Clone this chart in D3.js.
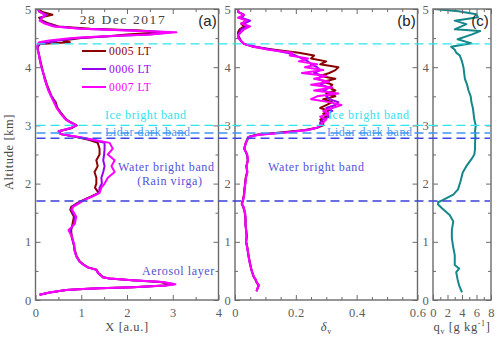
<!DOCTYPE html>
<html>
<head>
<meta charset="utf-8">
<script src="https://cdn.jsdelivr.net/npm/d3@7"></script>
<style>
body { margin: 0; background: #fff; }
svg { display: block; }
</style>
</head>
<body>
<svg id="chart" width="500" height="340"></svg>
<script>
// ---- data ----
const seriesNames = ["0005 LT", "0006 LT", "0007 LT"];

// panel (a): backscatter X [a.u.] vs altitude [km]
const altA = [0.09,0.13,0.17,0.19,0.20,0.22,0.25,0.27,0.31,0.34,
    0.37,0.39,0.47,0.52,0.56,0.61,0.66,0.75,0.86,0.94,
    1.00,1.08,1.20,1.31,1.43,1.55,1.60,1.65,1.72,1.78,
    1.84,1.93,2.00,2.10,2.20,2.30,2.40,2.50,2.60,2.70,
    2.75,2.80,2.85,2.90,2.95,3.00,3.05,3.10,3.20,3.30,
    3.40,3.50,3.60,3.70,3.80,3.90,4.00,4.10,4.20,4.30,
    4.35,4.40,4.43,4.46,4.50,4.53,4.56,4.60,4.63,4.66,
    4.70,4.75,4.80,4.85,4.90,4.95,5.00];
const x0005 = [0.09,0.31,0.67,1.04,1.40,2.13,2.80,2.98,2.72,2.10,
    1.62,1.48,1.37,1.33,1.15,1.05,0.97,0.90,0.86,0.84,
    0.82,0.79,0.78,0.81,0.84,0.76,0.78,0.88,1.05,1.22,
    1.38,1.30,1.33,1.33,1.29,1.36,1.33,1.40,1.40,1.36,
    1.18,0.90,0.55,0.52,0.78,0.90,0.78,0.68,0.57,0.48,
    0.44,0.35,0.30,0.25,0.21,0.17,0.14,0.11,0.08,0.05,
    0.05,0.10,0.75,0.60,1.00,1.60,2.00,2.75,2.30,1.20,
    0.50,0.30,0.15,0.08,0.37,0.15,0.05];
const x0006 = [0.09,0.31,0.67,1.04,1.40,2.13,2.84,3.03,2.76,2.12,
    1.62,1.47,1.36,1.33,1.14,1.04,0.96,0.89,0.85,0.84,
    0.82,0.80,0.76,0.84,0.86,0.78,0.80,0.90,1.06,1.24,
    1.39,1.40,1.45,1.44,1.48,1.51,1.48,1.50,1.51,1.51,
    1.25,0.92,0.55,0.51,0.76,0.89,0.77,0.67,0.56,0.47,
    0.42,0.35,0.29,0.24,0.20,0.17,0.13,0.10,0.08,0.05,
    0.04,0.06,0.30,0.50,0.90,1.60,2.50,2.95,2.10,1.00,
    0.45,0.25,0.10,0.12,0.25,0.08,0.05];
const x0007 = [0.09,0.31,0.67,1.04,1.40,2.13,2.86,3.06,2.79,2.13,
    1.62,1.47,1.36,1.33,1.14,1.04,0.96,0.89,0.85,0.85,
    0.83,0.80,0.72,0.86,0.89,0.80,0.82,0.93,1.07,1.25,
    1.40,1.44,1.51,1.58,1.73,1.66,1.73,1.58,1.69,1.62,
    1.30,0.95,0.55,0.50,0.75,0.89,0.76,0.66,0.55,0.46,
    0.40,0.34,0.28,0.24,0.20,0.17,0.13,0.10,0.08,0.05,
    0.04,0.05,0.08,0.30,0.80,1.50,2.50,3.08,2.00,1.00,
    0.40,0.20,0.09,0.15,0.20,0.10,0.05];

// panel (b): volume depolarization ratio
const altB = [0.15,0.20,0.25,0.30,0.35,0.40,0.50,0.60,0.70,0.80,
    0.90,1.00,1.10,1.20,1.30,1.40,1.50,1.60,1.65,1.70,
    1.80,1.90,2.00,2.10,2.20,2.30,2.40,2.50,2.60,2.70,
    2.80,2.84,2.88,2.92,2.96,3.00,3.05,3.10,3.15,3.20,
    3.25,3.30,3.35,3.40,3.45,3.50,3.55,3.60,3.65,3.70,
    3.75,3.80,3.85,3.90,3.95,4.00,4.05,4.10,4.15,4.20,
    4.25,4.30,4.35,4.40,4.45,4.50,4.55,4.60,4.65,4.70,
    4.75,4.80,4.85,4.90,4.95,5.00];
const d0005 = [0.071,0.074,0.078,0.071,0.067,0.061,0.055,0.051,0.047,0.043,
    0.041,0.037,0.039,0.036,0.035,0.034,0.032,0.027,0.022,0.025,
    0.029,0.031,0.033,0.035,0.040,0.037,0.042,0.039,0.031,0.035,
    0.044,0.070,0.150,0.230,0.270,0.290,
    0.29,0.28,0.30,0.29,0.31,0.28,0.30,0.32,0.29,0.33,
    0.30,0.33,0.31,0.32,0.29,0.33,0.28,0.31,0.33,0.34,
    0.28,0.30,0.25,0.26,0.21,0.13,0.06,0.03,0.02,0.015,
    0.01,0.01,0.015,0.03,0.02,0.04,0.02,0.03,0.01,0.01];
const d0006 = [0.071,0.074,0.078,0.072,0.068,0.062,0.055,0.050,0.046,0.043,
    0.040,0.036,0.038,0.037,0.034,0.035,0.033,0.028,0.023,0.026,
    0.030,0.031,0.034,0.036,0.040,0.038,0.042,0.040,0.030,0.036,
    0.045,0.075,0.160,0.240,0.270,0.280,
    0.28,0.29,0.31,0.30,0.32,0.30,0.33,0.34,0.31,0.30,
    0.32,0.29,0.31,0.28,0.30,0.27,0.29,0.26,0.28,0.27,
    0.25,0.24,0.22,0.20,0.17,0.12,0.07,0.03,0.02,0.015,
    0.01,0.015,0.02,0.04,0.03,0.05,0.02,0.03,0.01,0.01];
const d0007 = [0.071,0.074,0.079,0.072,0.068,0.062,0.055,0.050,0.046,0.044,
    0.040,0.036,0.038,0.037,0.034,0.035,0.033,0.028,0.023,0.026,
    0.030,0.032,0.034,0.036,0.041,0.038,0.043,0.040,0.030,0.036,
    0.045,0.080,0.170,0.240,0.270,0.280,
    0.29,0.30,0.28,0.31,0.29,0.32,0.35,0.31,0.25,0.27,
    0.34,0.26,0.32,0.25,0.31,0.26,0.30,0.22,0.29,0.23,
    0.27,0.21,0.24,0.18,0.19,0.11,0.06,0.03,0.02,0.01,
    0.01,0.02,0.03,0.05,0.02,0.04,0.01,0.03,0.01,0.01];

// panel (c): water vapour mixing ratio [g/kg]
const altC = [0.13,0.25,0.35,0.48,0.54,0.60,0.77,0.90,1.06,1.20,
    1.35,1.46,1.58,1.64,1.68,1.72,1.81,1.90,2.04,2.19,
    2.30,2.42,2.50,2.60,2.70,2.80,2.90,3.00,3.10,3.20,
    3.30,3.40,3.50,3.60,3.70,3.80,3.90,4.00,4.10,4.20,
    4.25,4.30,4.35,4.41,4.48,4.56,4.62,4.65,4.74,4.80,
    4.86,4.91,4.96,5.00];
const qv = [4.0,3.6,3.4,3.2,3.6,3.0,3.0,2.8,2.6,2.6,
    2.8,2.3,1.2,0.7,0.7,1.4,2.8,3.45,3.8,4.1,
    4.6,5.3,5.7,5.8,5.8,5.85,5.8,5.9,5.7,5.6,
    5.5,5.3,5.2,4.9,4.7,4.4,4.3,4.2,4.0,3.7,
    3.2,3.0,2.5,5.3,3.4,5.3,6.5,3.0,4.6,3.0,
    6.2,6.0,3.5,0.2];

// layer heights [km] marked by dashed lines
const layerAlts = [4.40, 3.00, 2.87, 2.78, 1.70];
const layerColors = ["#2fe3ee", "#2fe3ee", "#3d95f2", "#3b47e6", "#3a40d6"];

// ticks
const altTicks = [0, 1, 2, 3, 4, 5];
const altMinor = [0.5, 1.5, 2.5, 3.5, 4.5];
const xTicksA = [0, 1, 2, 3, 4];
const xMinorA = [0.5, 1.5, 2.5, 3.5];
const xTicksB = [0, 0.2, 0.4, 0.6];
const xMinorB = [0.05, 0.1, 0.15, 0.25, 0.3, 0.35, 0.45, 0.5, 0.55];
const xTicksC = [0, 2, 4, 6, 8];
const xMinorC = [1, 3, 5, 7];

// ---- drawing ----
const seriesColors = ["#8b0000", "#9a00f0", "#ff00ff"];
const serif = "'Liberation Serif', 'Times New Roman', serif";
const frameColor = "#6b6b6b";
const plotTop = 9, plotBottom = 300;

const svg = d3.select("#chart");
const yScale = d3.scaleLinear().domain([0, 5]).range([plotBottom, plotTop]);

const panels = [
    {id: "a", x0: 35.5, x1: 218.5, domain: [0, 4], ticks: xTicksA, minor: xMinorA,
        fmt: d3.format("d"), alt: altA, series: [x0005, x0006, x0007], colors: seriesColors},
    {id: "b", x0: 235, x1: 417.5, domain: [0, 0.6], ticks: xTicksB, minor: xMinorB,
        fmt: d => d === 0 ? "0" : d3.format(".1f")(d), alt: altB, series: [d0005, d0006, d0007], colors: seriesColors},
    {id: "c", x0: 433, x1: 491, domain: [0, 8], ticks: xTicksC, minor: xMinorC,
        fmt: d3.format("d"), alt: altC, series: [qv], colors: ["#14878a"]}
];

panels.forEach(function (p) {
    p.x = d3.scaleLinear().domain(p.domain).range([p.x0, p.x1]);
    let g = svg.append("g").attr("class", "panel-" + p.id);

    svg.append("clipPath").attr("id", "clip-" + p.id)
        .append("rect")
        .attr("x", p.x0).attr("y", plotTop)
        .attr("width", p.x1 - p.x0).attr("height", plotBottom - plotTop);

    let plot = g.append("g").attr("clip-path", "url(#clip-" + p.id + ")");
    p.plot = plot;

    let line = d3.line()
        .x(d => p.x(d[1]))
        .y(d => yScale(d[0]));

    p.series.forEach(function (vals, i) {
        let pts = p.alt.map((a, k) => [a, vals[k]]);
        plot.append("path")
            .datum(pts)
            .attr("fill", "none")
            .attr("stroke", p.colors[i])
            .attr("stroke-width", 2)
            .attr("stroke-linejoin", "round")
            .attr("d", line);
    });

    // axes, ticks pointing inward on all four sides
    let ax = g.append("g").attr("class", "axes");

    function styleAxis(sel) {
        sel.select(".domain").remove();
        sel.selectAll(".tick line").attr("stroke", frameColor).attr("stroke-width", 1);
        sel.selectAll(".tick text").attr("fill", "#5e5e5e")
            .attr("font-family", serif).attr("font-size", 12.5)
            .attr("letter-spacing", 0.3);
    }

    ax.append("g").attr("transform", "translate(0," + plotBottom + ")")
        .call(d3.axisBottom(p.x).tickValues(p.ticks).tickFormat(p.fmt).tickSize(-5).tickPadding(8))
        .call(styleAxis);
    ax.append("g").attr("transform", "translate(0," + plotBottom + ")")
        .call(d3.axisBottom(p.x).tickValues(p.minor).tickFormat("").tickSize(-3))
        .call(styleAxis);
    ax.append("g").attr("transform", "translate(0," + plotTop + ")")
        .call(d3.axisTop(p.x).tickValues(p.ticks).tickFormat("").tickSize(-5))
        .call(styleAxis);
    ax.append("g").attr("transform", "translate(0," + plotTop + ")")
        .call(d3.axisTop(p.x).tickValues(p.minor).tickFormat("").tickSize(-3))
        .call(styleAxis);
    ax.append("g").attr("transform", "translate(" + p.x0 + ",0)")
        .call(d3.axisLeft(yScale).tickValues(altTicks).tickFormat(d3.format("d")).tickSize(-5).tickPadding(4))
        .call(styleAxis);
    ax.append("g").attr("transform", "translate(" + p.x0 + ",0)")
        .call(d3.axisLeft(yScale).tickValues(altMinor).tickFormat("").tickSize(-3))
        .call(styleAxis);
    ax.append("g").attr("transform", "translate(" + p.x1 + ",0)")
        .call(d3.axisRight(yScale).tickValues(altTicks).tickFormat("").tickSize(-5))
        .call(styleAxis);
    ax.append("g").attr("transform", "translate(" + p.x1 + ",0)")
        .call(d3.axisRight(yScale).tickValues(altMinor).tickFormat("").tickSize(-3))
        .call(styleAxis);

    g.append("rect")
        .attr("x", p.x0).attr("y", plotTop)
        .attr("width", p.x1 - p.x0).attr("height", plotBottom - plotTop)
        .attr("fill", "none").attr("stroke", frameColor).attr("stroke-width", 1.4);

    g.append("text")
        .attr("x", p.x1 - 11).attr("y", 26)
        .attr("text-anchor", "middle")
        .attr("font-family", "'Liberation Sans', Arial, sans-serif")
        .attr("font-size", 15).attr("fill", "#222")
        .text("(" + p.id + ")");
});

const pa = panels[0], pb = panels[1], pc = panels[2];

// annotations (clipped to their panel)
function note(p, x, y, txt, color, anchor) {
    p.plot.append("text")
        .attr("x", x).attr("y", y)
        .attr("text-anchor", anchor || "start")
        .attr("font-family", serif).attr("font-size", 12)
        .attr("letter-spacing", 0.6)
        .attr("fill", color)
        .text(txt);
}
note(pa, 105, 119, "Ice bright band", "#2fe3ee");
note(pb, 328, 119, "Ice bright band", "#2fe3ee");
note(pa, 105, 136, "Lidar dark band", "#4a9af2");
note(pb, 327, 136, "Lidar dark band", "#4a9af2");
note(pa, 118, 171, "Water bright band", "#5252dc");
note(pa, 170, 185, "(Rain virga)", "#5252dc", "middle");
note(pb, 268, 171, "Water bright band", "#5252dc");
note(pa, 142, 275, "Aerosol layer", "#5252cc");

// dashed layer lines across all panels
svg.append("g").selectAll("line")
    .data(layerAlts)
    .join("line")
    .attr("x1", pa.x0 + 1).attr("x2", pc.x1 - 1)
    .attr("y1", d => yScale(d)).attr("y2", d => yScale(d))
    .attr("stroke", (d, i) => layerColors[i])
    .attr("stroke-width", 1.4)
    .attr("stroke-dasharray", "9,5");

// legend
const legend = svg.append("g").attr("font-family", serif).attr("font-size", 11.5)
    .attr("letter-spacing", 0.5);
seriesNames.forEach(function (name, i) {
    let y = 51 + i * 18;
    legend.append("line")
        .attr("x1", 82).attr("x2", 106).attr("y1", y).attr("y2", y)
        .attr("stroke", seriesColors[i]).attr("stroke-width", 2);
    legend.append("text")
        .attr("x", 109).attr("y", y).attr("dy", "0.35em")
        .attr("fill", seriesColors[i])
        .text(name);
});

svg.append("text")
    .attr("x", 123).attr("y", 24)
    .attr("text-anchor", "middle")
    .attr("font-family", serif).attr("font-size", 13.5).attr("fill", "#444")
    .attr("letter-spacing", 1.6)
    .text("28 Dec 2017");

// axis titles
const titles = svg.append("g").attr("font-family", serif).attr("font-size", 12.5)
    .attr("fill", "#4a4a4a").attr("letter-spacing", 0.6);
titles.append("text")
    .attr("x", (pa.x0 + pa.x1) / 2).attr("y", 331)
    .attr("text-anchor", "middle")
    .text("X [a.u.]");
let tb = titles.append("text")
    .attr("x", (pb.x0 + pb.x1) / 2).attr("y", 331)
    .attr("text-anchor", "middle");
tb.append("tspan").attr("font-style", "italic").text("δ");
tb.append("tspan").attr("font-size", 8).attr("dy", 3).text("v");
let tc = titles.append("text")
    .attr("x", (pc.x0 + pc.x1) / 2).attr("y", 331)
    .attr("text-anchor", "middle");
tc.append("tspan").text("q");
tc.append("tspan").attr("font-size", 8).attr("dy", 3).text("v");
tc.append("tspan").attr("dy", -3).text(" [g kg");
tc.append("tspan").attr("font-size", 8).attr("dy", -5).text("-1");
tc.append("tspan").attr("dy", 5).text("]");
titles.append("text")
    .attr("transform", "translate(13,152) rotate(-90)")
    .attr("text-anchor", "middle")
    .text("Altitude [km]");
</script>
</body>
</html>
